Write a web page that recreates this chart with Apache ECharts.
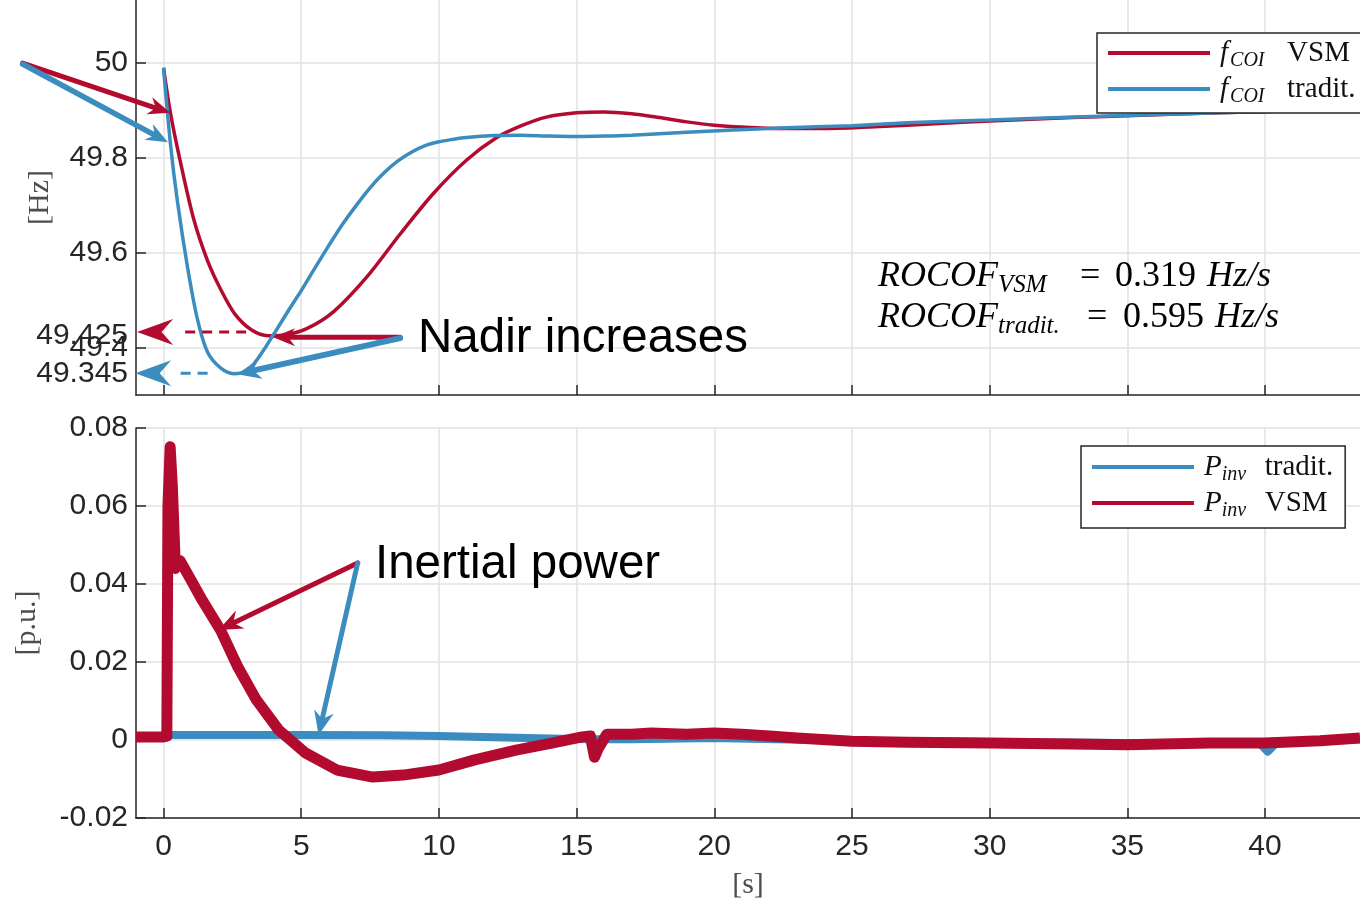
<!DOCTYPE html>
<html>
<head>
<meta charset="utf-8">
<style>
  html, body { margin: 0; padding: 0; background: #fff; }
  #chart { width: 1360px; height: 905px; }
</style>
<script src="https://cdn.jsdelivr.net/npm/echarts@6/dist/echarts.min.js"></script>
</head>
<body>
<div id="chart"></div>
<script>
// ---- data ----
// frequency of the centre of inertia [Hz]
var fVsmT   = [0, 0.25, 0.6, 1.1, 1.6, 2.1, 2.6, 3.2, 3.8, 4.3, 5.2, 6.2, 7.4, 8.6, 9.8, 11, 12.1, 13, 13.9, 15, 16, 17, 18, 19, 20, 21, 22.4, 24, 26, 28, 30, 33, 36, 40, 43.5];
var fVsm    = [49.99, 49.895, 49.795, 49.67, 49.583, 49.52, 49.47, 49.437, 49.425, 49.426, 49.44, 49.477, 49.55, 49.64, 49.725, 49.795, 49.843, 49.868, 49.886, 49.895, 49.897, 49.893, 49.885, 49.876, 49.869, 49.865, 49.862, 49.862, 49.866, 49.872, 49.878, 49.885, 49.891, 49.898, 49.903];
var fTradT  = [0, 0.25, 0.5, 0.87, 1.23, 1.6, 2.07, 2.55, 3.05, 3.5, 4, 4.6, 5, 5.5, 6, 6.5, 7, 7.5, 8, 8.5, 9, 9.5, 10, 10.5, 11, 12, 13, 14, 15, 16, 17, 19, 22.4, 25, 27, 30, 34, 40, 43.5];
var fTrad   = [49.99, 49.83, 49.71, 49.57, 49.46, 49.39, 49.357, 49.345, 49.352, 49.383, 49.428, 49.484, 49.52, 49.568, 49.615, 49.66, 49.7, 49.737, 49.768, 49.793, 49.812, 49.826, 49.834, 49.839, 49.843, 49.847, 49.848, 49.846, 49.845, 49.846, 49.848, 49.854, 49.863, 49.868, 49.874, 49.88, 49.888, 49.898, 49.903];

// inverter power [p.u.]
var pVsmT   = [-1, -0.5, 0, 0.12, 0.16, 0.24, 0.32, 0.43, 0.5, 0.6, 0.8, 1.0, 1.4, 2.07, 2.7, 3.37, 4.18, 5.15, 6.3, 7.6, 8.7, 10, 11.3, 12.8, 14.1, 15.2, 15.5, 15.65, 15.8, 16.1, 17, 17.7, 19, 20, 21, 22, 23, 25, 27, 30, 33, 35, 38, 40, 42, 43.45];
var pVsm    = [0.0008, 0.0008, 0.0008, 0.001, 0.06, 0.0752, 0.065, 0.044, 0.0445, 0.046, 0.0435, 0.041, 0.0359, 0.0282, 0.0187, 0.0103, 0.0026, -0.0033, -0.0077, -0.0095, -0.009, -0.0077, -0.0051, -0.0026, -0.0008, 0.0008, 0.001, -0.0044, -0.002, 0.0015, 0.0015, 0.0018, 0.0015, 0.0018, 0.0015, 0.001, 0.0005, -0.0003, -0.0006, -0.0008, -0.001, -0.0012, -0.0008, -0.0008, -0.0002, 0.0005];
var pTradT  = [-1, 0, 0.15, 2, 5, 8, 10, 12, 14, 15.5, 17, 20, 25, 30, 35, 39.8, 40.1, 40.4, 43.45];
var pTrad   = [0.0008, 0.0008, 0.0013, 0.0013, 0.0013, 0.0012, 0.001, 0.0007, 0.0004, 0.0002, 0.0002, 0.0005, -0.0002, -0.0005, -0.0008, -0.0008, -0.003, -0.0008, 0.0002];

// tick labels
var timeTicks = [0, 5, 10, 15, 20, 25, 30, 35, 40];
var freqTicks = [49.4, 49.6, 49.8, 50];
var nadirVals = [49.425, 49.345];

// annotation arrows in data units: [tail t, tail value, tip t, tip value]
var arrowTopRed   = [-5.12, 50.0, 0.24, 49.895];
var arrowTopBlue  = [-5.12, 49.998, 0.16, 49.833];
var arrowNadirRed = [8.59, 49.422, 3.98, 49.422];
var arrowNadirBlu = [8.59, 49.42, 2.67, 49.344];
var dashNadirRed  = [3.0, 49.433, -0.96, 49.433];
var dashNadirBlu  = [1.6, 49.346, -1.03, 49.346];
var arrowPowRed   = [7.05, 0.0454, 2.0, 0.0282];
var arrowPowBlu   = [7.05, 0.0454, 5.63, 0.0013];

var RED = '#B30B30', BLUE = '#3A8DBE', AX = '#262626', GRID = '#e2e2e2';

function pairs(t, v) {
  return t.map(function (x, i) { return [x, v[i]]; });
}

var chart = echarts.init(document.getElementById('chart'));

var tickStyle = { color: AX, width: 1.5 };
var labelStyle = { fontFamily: 'Liberation Sans', fontSize: 30, color: AX };
var serifName = { fontFamily: 'Liberation Serif', fontSize: 30, color: '#4d4d4d' };

// legend rich text: italic symbol, lowered subscript, upright word
var subStyle = { fontFamily: 'Liberation Serif', fontStyle: 'italic', fontSize: 20, lineHeight: 18, verticalAlign: 'top', color: '#111' };
var legendRich = {
  it: { fontFamily: 'Liberation Serif', fontStyle: 'italic', fontSize: 29, lineHeight: 28, verticalAlign: 'top', color: '#111', padding: [0, 0, 0, 5] },
  sf: Object.assign({ width: 44, padding: [12, 0, 0, 2] }, subStyle),
  sp: Object.assign({ width: 30, padding: [12, 0, 0, 0] }, subStyle),
  rm: { fontFamily: 'Liberation Serif', fontSize: 29, lineHeight: 28, verticalAlign: 'top', color: '#111', padding: [0, 0, 0, 13] }
};
var legendText = {
  'f_COI VSM': '{it|f}{sf|COI}{rm|VSM}',
  'f_COI tradit.': '{it|f}{sf|COI}{rm|tradit.}',
  'P_inv tradit.': '{it|P}{sp|inv}{rm|tradit.}',
  'P_inv VSM': '{it|P}{sp|inv}{rm|VSM}'
};

var option = {
  animation: false,
  backgroundColor: '#fff',
  grid: [
    { left: 136, right: 0, top: 0, bottom: 510, outerBoundsMode: 'none' },
    { left: 136, right: 0, top: 428, bottom: 87, outerBoundsMode: 'none' }
  ],
  legend: [
    {
      data: ['f_COI VSM', 'f_COI tradit.'],
      orient: 'vertical', left: 1097, top: 33,
      padding: [6, 40, 6, 11], itemGap: 4,
      itemWidth: 102, itemHeight: 4, icon: 'rect',
      borderColor: AX, borderWidth: 1.5, backgroundColor: '#fff',
      formatter: function (n) { return legendText[n]; },
      textStyle: { rich: legendRich }
    },
    {
      data: ['P_inv tradit.', 'P_inv VSM'],
      orient: 'vertical', left: 1081, top: 446,
      padding: [7, 12, 7, 11], itemGap: 4,
      itemWidth: 102, itemHeight: 4, icon: 'rect',
      borderColor: AX, borderWidth: 1.5, backgroundColor: '#fff',
      formatter: function (n) { return legendText[n]; },
      textStyle: { rich: legendRich }
    }
  ],
  xAxis: [
    {
      gridIndex: 0, type: 'value', min: -1, max: 43.45,
      axisLine: { show: true, onZero: false, lineStyle: tickStyle },
      axisTick: { show: true, inside: true, length: 10, customValues: timeTicks, lineStyle: tickStyle },
      axisLabel: { show: false },
      splitLine: { show: true, lineStyle: { color: GRID, width: 1.5 } }
    },
    {
      gridIndex: 1, type: 'value', min: -1, max: 43.45,
      axisLine: { show: true, onZero: false, lineStyle: tickStyle },
      axisTick: { show: true, inside: true, length: 10, customValues: timeTicks, lineStyle: tickStyle },
      axisLabel: Object.assign({ customValues: timeTicks, margin: 14 }, labelStyle),
      splitLine: { show: true, lineStyle: { color: GRID, width: 1.5 } },
      name: '[s]', nameLocation: 'middle', nameGap: 52, nameMoveOverlap: false, nameTextStyle: serifName
    }
  ],
  yAxis: [
    {
      gridIndex: 0, type: 'value', min: 49.3, max: 50.133,
      axisLine: { show: true, onZero: false, lineStyle: tickStyle },
      axisTick: { show: true, inside: true, length: 10, customValues: freqTicks, lineStyle: tickStyle },
      axisLabel: Object.assign({ customValues: freqTicks.concat(nadirVals), margin: 8 }, labelStyle),
      splitLine: { show: true, lineStyle: { color: GRID, width: 1.5 } },
      name: '[Hz]', nameLocation: 'middle', nameRotate: 90, nameGap: 81, nameMoveOverlap: false, nameTextStyle: serifName
    },
    {
      gridIndex: 1, type: 'value', min: -0.02, max: 0.08, interval: 0.02,
      axisLine: { show: true, onZero: false, lineStyle: tickStyle },
      axisTick: { show: true, inside: true, length: 10, lineStyle: tickStyle },
      axisLabel: Object.assign({ margin: 8 }, labelStyle),
      splitLine: { show: true, lineStyle: { color: GRID, width: 1.5 } },
      name: '[p.u.]', nameLocation: 'middle', nameRotate: 90, nameGap: 94, nameMoveOverlap: false, nameTextStyle: serifName
    }
  ],
  series: [
    {
      name: 'f_COI VSM', type: 'line', xAxisIndex: 0, yAxisIndex: 0,
      data: pairs(fVsmT, fVsm), smooth: 0.3, showSymbol: false,
      lineStyle: { color: RED, width: 3.5 }, itemStyle: { color: RED }
    },
    {
      name: 'f_COI tradit.', type: 'line', xAxisIndex: 0, yAxisIndex: 0,
      data: pairs(fTradT, fTrad), smooth: 0.3, showSymbol: false,
      lineStyle: { color: BLUE, width: 3.5 }, itemStyle: { color: BLUE }
    },
    {
      name: 'P_inv tradit.', type: 'line', xAxisIndex: 1, yAxisIndex: 1,
      data: pairs(pTradT, pTrad), showSymbol: false,
      lineStyle: { color: BLUE, width: 8, join: 'round' }, itemStyle: { color: BLUE }
    },
    {
      name: 'P_inv VSM', type: 'line', xAxisIndex: 1, yAxisIndex: 1,
      data: pairs(pVsmT, pVsm), showSymbol: false,
      lineStyle: { color: RED, width: 11, join: 'round' }, itemStyle: { color: RED }
    }
  ]
};

chart.setOption(option);

// ---- annotations: arrows placed through the axes' scales ----
function px(grid, t, v) {
  return chart.convertToPixel({ gridIndex: grid }, [t, v]);
}
function arrow(grid, a, color, w, len, half, dash) {
  var p0 = px(grid, a[0], a[1]), p1 = px(grid, a[2], a[3]);
  var dx = p1[0] - p0[0], dy = p1[1] - p0[1], d = Math.sqrt(dx * dx + dy * dy);
  var ux = dx / d, uy = dy / d, nx = -uy, ny = ux;
  var bx = p1[0] - ux * len, by = p1[1] - uy * len;
  var nk = [p1[0] - ux * len * 0.68, p1[1] - uy * len * 0.68];
  var endLine = dash ? [p1[0] - ux * (len + 8), p1[1] - uy * (len + 8)] : nk;
  return [
    { type: 'line', z: 100, shape: { x1: p0[0], y1: p0[1], x2: endLine[0], y2: endLine[1] },
      style: { stroke: color, lineWidth: w, lineCap: dash ? 'butt' : 'round', lineDash: dash || null } },
    { type: 'polygon', z: 100, shape: { points: [p1, [bx + nx * half, by + ny * half], nk, [bx - nx * half, by - ny * half]] },
      style: { fill: color } }
  ];
}

var rocofMain = { fontFamily: 'Liberation Serif', fontSize: 36, lineHeight: 34, verticalAlign: 'top', color: '#1a1a1a' };
function rocofRich(subW, eqW) {
  return {
    r: Object.assign({ fontStyle: 'italic', width: 120 }, rocofMain),
    s: { fontFamily: 'Liberation Serif', fontStyle: 'italic', fontSize: 25, lineHeight: 23, padding: [14, 0, 0, 0], verticalAlign: 'top', width: subW, color: '#1a1a1a' },
    e: Object.assign({ width: eqW }, rocofMain),
    n: Object.assign({ width: 92 }, rocofMain),
    u: Object.assign({ fontStyle: 'italic' }, rocofMain)
  };
}

var g = [];
g = g.concat(arrow(0, arrowTopRed, RED, 5, 22, 9));
g = g.concat(arrow(0, arrowTopBlue, BLUE, 5.5, 22, 9));
g = g.concat(arrow(0, dashNadirRed, RED, 3, 36, 13, [10, 7]));
g = g.concat(arrow(0, dashNadirBlu, BLUE, 3, 36, 13, [10, 7]));
g = g.concat(arrow(0, arrowNadirRed, RED, 5, 22, 9));
g = g.concat(arrow(0, arrowNadirBlu, BLUE, 6, 24, 10));
g = g.concat(arrow(1, arrowPowRed, RED, 5, 24, 10));
g = g.concat(arrow(1, arrowPowBlu, BLUE, 5, 24, 10));

g.push({ type: 'text', x: 418, y: 315, z: 110,
  style: { text: 'Nadir increases', fontFamily: 'Liberation Sans', fontSize: 47.5, fill: '#000' } });
g.push({ type: 'text', x: 375, y: 541, z: 110,
  style: { text: 'Inertial power', fontFamily: 'Liberation Sans', fontSize: 47.5, fill: '#000' } });
g.push({ type: 'text', x: 878, y: 259, z: 110,
  style: { text: '{r|ROCOF}{s|VSM}{e|=}{n|0.319}{u|Hz/s}', rich: rocofRich(82, 35) } });
g.push({ type: 'text', x: 878, y: 300, z: 110,
  style: { text: '{r|ROCOF}{s|tradit.}{e|=}{n|0.595}{u|Hz/s}', rich: rocofRich(89, 36) } });

chart.setOption({ graphic: g });
</script>
</body>
</html>
